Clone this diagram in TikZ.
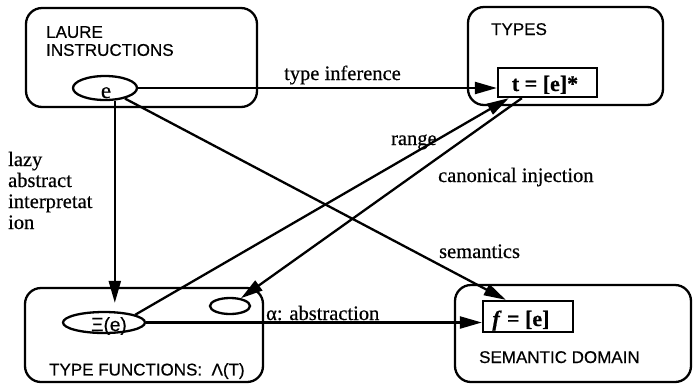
\documentclass[tikz,border=0pt]{standalone}
\usepackage{fontspec}
\setmainfont{Liberation Serif}[FakeBold=0.5]
\newfontfamily\sansf{Liberation Sans}[FakeBold=0.5]
\usetikzlibrary{arrows.meta,shapes.geometric,calc}
\begin{document}
\begin{tikzpicture}[x=1pt,y=-1pt,line width=2.3pt,
  region/.style={draw,rounded corners=16pt,inner sep=0pt},
  oval/.style={draw,ellipse,inner sep=0pt},
  valbox/.style={draw,rectangle,inner sep=0pt},
  capt/.style={font=\sansf\fontsize{17}{18}\selectfont,inner sep=0pt},
  lbl/.style={font=\fontsize{20.5}{21}\selectfont,inner sep=0pt},
  valtxt/.style={font=\bfseries\fontsize{22}{23}\selectfont,inner sep=0pt},
  arr/.style={-{Triangle[length=22pt,width=12pt]}},
]
\useasboundingbox (0,0) rectangle (694,384);
% regions
\node[region,minimum width=231pt,minimum height=99pt] (laure) at (141.5,57.5) {};
\node[region,minimum width=195pt,minimum height=98pt] (types) at (565.5,56) {};
\node[region,minimum width=238pt,minimum height=94pt] (tfun) at (144,335) {};
\node[region,minimum width=236pt,minimum height=97pt] (sem) at (573,333.5) {};
% region titles
\node[capt,anchor=north west,align=left] (tl) at (45,25) {LAURE\\INSTRUCTIONS};
\node[capt,anchor=north west] (tt) at (490,22) {TYPES};
\node[capt,anchor=north west] (tf) at (48,362) {TYPE FUNCTIONS:\ \ Λ(T)};
\node[capt,anchor=north west] (ts) at (478,350) {SEMANTIC DOMAIN};
% inner elements
\node[oval,minimum width=64pt,minimum height=24pt] (e) at (105,88) {};
\node[lbl,font=\fontsize{23}{24}\selectfont,anchor=base] (etxt) at (106,98) {e};
\node[valbox,minimum width=99pt,minimum height=29pt] (t) at (547.5,82.5) {};
\node[valtxt,anchor=base] (ttxt) at (545,91) {t = [e]*};
\node[oval,minimum width=82pt,minimum height=21pt] (xi) at (104,322.5) {};
\node[capt,font=\sansf\fontsize{19}{20}\selectfont,anchor=base] (xitxt) at (109,331) {Ξ(e)};
\node[oval,minimum width=40pt,minimum height=16pt] (sm) at (230,306) {};
\node[valbox,minimum width=90pt,minimum height=31pt] (f) at (528,316.5) {};
\node[valtxt,anchor=base] (ftxt) at (521,326) {\textit{f} = [e]};
% connection points
\coordinate (rangeend) at ($(t.south west)+(12,0)$);
\coordinate (canstart) at ($(t.south west)+(25,0)$);
\coordinate (semend) at ($(f.north west)+(24,0)$);
% connectors
\draw[arr] (e.east) -- (e.east -| t.west);
\draw[arr,shorten >=8pt] (e.-52) -- (e.-52 |- xi.north);
\draw[arr] (e) -- (semend);
\draw[arr] (xi.14) -- (rangeend);
\draw[arr] (canstart) -- (sm);
\draw[arr] (xi.east) -- (xi.east -| f.west);
% labels
\node[lbl,anchor=base west] (lti) at (283,80) {type inference};
\node[lbl,anchor=base west] (lr) at (390,145) {range};
\node[lbl,anchor=base west] (lc) at (437,182) {canonical injection};
\node[lbl,anchor=base west] (ls) at (438,258) {semantics};
\node[lbl,anchor=base west] (la) at (265,320) {α: abstraction};
\node[lbl,anchor=base west] (l1) at (7,166) {lazy};
\node[lbl,anchor=base west] (l2) at (7,187) {abstract};
\node[lbl,anchor=base west] (l3) at (7,208) {interpretat};
\node[lbl,anchor=base west] (l4) at (7,229) {ion};
\end{tikzpicture}
\end{document}
